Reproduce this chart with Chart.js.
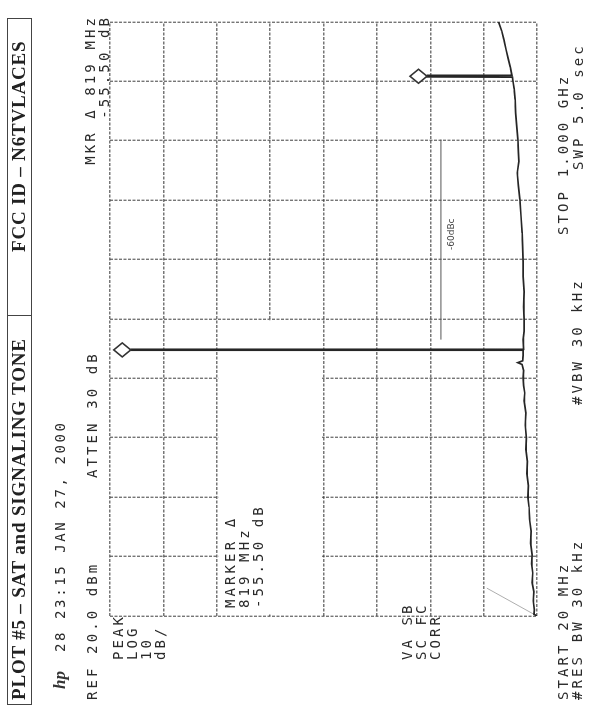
<!DOCTYPE html>
<html>
<head>
<meta charset="utf-8">
<script src="https://cdn.jsdelivr.net/npm/chart.js@4.4.1/dist/chart.umd.min.js"></script>
<style>
html, body { margin:0; padding:0; background:#fff; width:590px; height:709px; overflow:hidden; }
/* the plot is drawn upright and the whole sheet is turned a quarter turn, like the scan */
#sheet { position:absolute; left:0; top:0; width:709px; height:590px; transform-origin:0 0; transform:translate(0,709px) rotate(-90deg); }
#chart { position:absolute; left:0; top:0; }
.t { position:absolute; font-family:"DejaVu Sans Mono","Liberation Mono",monospace; font-size:14px; letter-spacing:3.1px; color:#2a2a2a; white-space:pre; line-height:16px; }
.head { position:absolute; left:4px; top:7px; width:687px; height:25px; border:1.5px solid #444; box-sizing:border-box; font-family:"Liberation Serif","DejaVu Serif",serif; font-weight:bold; font-size:19px; letter-spacing:0.8px; color:#222; line-height:22px; }
.head span { position:absolute; top:0; white-space:pre; }
.head .div { position:absolute; left:388px; top:0; bottom:0; border-left:1.5px solid #444; }
.hp { position:absolute; font-family:"Liberation Serif",serif; font-style:italic; font-weight:bold; font-size:17px; color:#333; }
.note { position:absolute; font-family:"DejaVu Sans",sans-serif; font-size:9px; color:#444; white-space:pre; }
</style>
</head>
<body>
<div id="sheet">
  <canvas id="chart" width="709" height="590"></canvas>
  <div class="head">
    <span style="left:4px">PLOT #5 – SAT and SIGNALING TONE</span>
    <div class="div"></div>
    <span style="left:452px">FCC ID – N6TVLACES</span>
  </div>
  <div class="hp" style="left:20px; top:50px">hp</div>
  <div class="t" style="left:57px; top:52px; letter-spacing:2.6px">28 23:15 JAN 27, 2000</div>
  <div class="t" style="left:9px; top:84px">REF 20.0 dBm</div>
  <div class="t" style="left:231px; top:84px">ATTEN 30 dB</div>
  <div class="t" style="right:15px; top:82px">MKR Δ 819 MHz</div>
  <div class="t" style="right:15px; top:96px">-55.50 dB</div>
  <div class="t" style="left:49px; top:110px">PEAK</div>
  <div class="t" style="left:49px; top:124px">LOG</div>
  <div class="t" style="left:49px; top:138px">10</div>
  <div class="t" style="left:49px; top:152px">dB/</div>
  <div class="t" style="left:101px; top:222px">MARKER Δ</div>
  <div class="t" style="left:101px; top:236px">819 MHz</div>
  <div class="t" style="left:101px; top:250px">-55.50 dB</div>
  <div class="t" style="left:49px; top:399px">VA SB</div>
  <div class="t" style="left:49px; top:413px">SC FC</div>
  <div class="t" style="left:49px; top:427px">CORR</div>
  <div class="note" style="left:459px; top:446px">-60dBc</div>
  <div class="t" style="left:9px; top:555px">START 20 MHz</div>
  <div class="t" style="left:9px; top:569px">#RES BW 30 kHz</div>
  <div class="t" style="left:304px; top:569px">#VBW 30 kHz</div>
  <div class="t" style="left:474px; top:555px">STOP 1.000 GHz</div>
  <div class="t" style="left:539px; top:570px">SWP 5.0 sec</div>
</div>
<script>
const freqTicks = [20, 118, 216, 314, 412, 510, 608, 706, 804, 902, 1000];
const levelTicks = [-60, -50, -40, -30, -20, -10, 0, 10, 20];

// swept trace, MHz / dBm
const traceFreq = [20, 23, 30, 45, 60, 75, 91, 106, 121, 140, 160, 180, 200, 216, 235, 255, 275, 295, 314,
  335, 355, 375, 388, 400, 413, 425, 435, 438, 441, 450, 458, 458.5, 459.5, 460, 476, 490, 509, 530,
  555, 580, 604, 630, 652, 680, 707, 730, 751, 770, 786, 806, 830, 850, 872, 890, 902, 909, 909.5,
  911.5, 912, 925, 940, 955, 971, 985, 1000];
const traceLevel = [-60.0, -59.4, -59.5, -59.3, -59.4, -59.1, -59.2, -59.0, -59.1, -58.8, -58.9, -58.6,
  -58.5, -58.3, -58.4, -58.1, -58.2, -57.9, -58.0, -57.8, -57.9, -57.6, -57.7, -57.5, -57.4, -57.5,
  -57.2, -56.4, -57.3, -57.4, -57.4, 16.1, 16.1, -57.5, -57.4, -57.6, -57.6, -57.5, -57.6, -57.4,
  -57.4, -57.3, -57.2, -57.0, -56.8, -56.5, -56.3, -56.6, -56.5, -56.4, -56.2, -56.0, -55.9, -55.7,
  -55.5, -55.4, -39.4, -39.4, -55.3, -55.0, -54.6, -54.2, -53.8, -53.4, -52.8];

const markerFreq = [459, 910.5];
const markerLevel = [16.1, -39.4];

// hand drawn -60 dBc line
const limitFreq = [476, 806];
const limitLevel = [-42, -42];

// stray pen stroke at the start of the sweep
const penFreq = [20, 66];
const penLevel = [-60, -50.6];

// graticule cells left empty behind the marker readout
const blankFreq = [20, 510];
const blankLevel = [-20, 0];

const pts = (xs, ys) => xs.map((v, i) => ({x: v, y: ys[i]}));

const sheetPlugin = {
  id: 'sheet',
  beforeDatasetsDraw(chart) {
    const {ctx, scales: {x, y}} = chart;
    const x0 = x.getPixelForValue(blankFreq[0]) + 1.5;
    const x1 = x.getPixelForValue(blankFreq[1]) - 1.5;
    const y0 = y.getPixelForValue(blankLevel[1]) + 1.5;
    const y1 = y.getPixelForValue(blankLevel[0]) - 1.5;
    ctx.save();
    ctx.fillStyle = '#fff';
    ctx.fillRect(x0, y0, x1 - x0, y1 - y0);
    ctx.restore();
  },
  afterDatasetsDraw(chart) {
    const {ctx, scales: {x, y}} = chart;
    ctx.save();
    ctx.lineWidth = 1.6;
    ctx.strokeStyle = '#333';
    ctx.fillStyle = '#fff';
    markerFreq.forEach((f, i) => {
      const px = x.getPixelForValue(f);
      const cy = y.getPixelForValue(markerLevel[i]) - 8.5;
      ctx.beginPath();
      ctx.moveTo(px, cy - 8.5);
      ctx.lineTo(px + 7, cy);
      ctx.lineTo(px, cy + 8.5);
      ctx.lineTo(px - 7, cy);
      ctx.closePath();
      ctx.fill();
      ctx.stroke();
    });
    ctx.restore();
  }
};

const gridStyle = {color: 'rgba(60,60,60,0.7)', lineWidth: 1.4, drawTicks: false};

new Chart(document.getElementById('chart'), {
  type: 'line',
  data: {
    datasets: [
      {data: pts(traceFreq, traceLevel), borderColor: '#262626', borderWidth: 1.7, pointRadius: 0, tension: 0},
      {data: pts(limitFreq, limitLevel), borderColor: '#555', borderWidth: 1, pointRadius: 0},
      {data: pts(penFreq, penLevel), borderColor: '#999', borderWidth: 0.8, pointRadius: 0}
    ]
  },
  options: {
    responsive: false,
    animation: false,
    devicePixelRatio: 1,
    layout: {padding: {left: 93, right: 22, top: 110, bottom: 53}},
    scales: {
      x: {
        type: 'linear', min: 20, max: 1000,
        afterBuildTicks: s => { s.ticks = freqTicks.map(v => ({value: v})); },
        ticks: {display: false},
        grid: gridStyle,
        border: {display: false, dash: [3, 1.5]}
      },
      y: {
        type: 'linear', min: -60, max: 20,
        afterBuildTicks: s => { s.ticks = levelTicks.map(v => ({value: v})); },
        ticks: {display: false},
        grid: gridStyle,
        border: {display: false, dash: [3, 1.5]}
      }
    },
    plugins: {legend: {display: false}, tooltip: {enabled: false}}
  },
  plugins: [sheetPlugin]
});
</script>
</body>
</html>
